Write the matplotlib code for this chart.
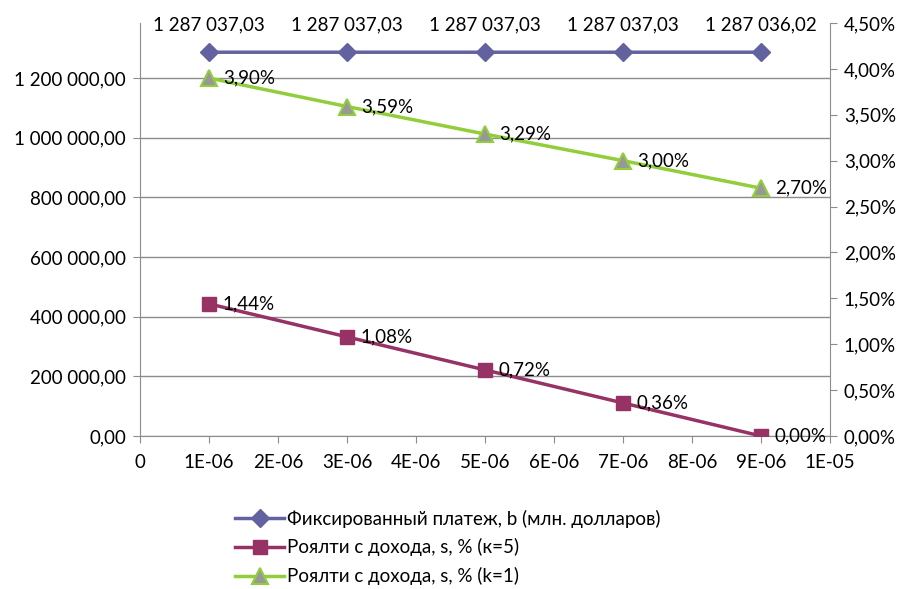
import matplotlib
matplotlib.use("Agg")
import matplotlib.pyplot as plt
from matplotlib.ticker import FuncFormatter, MultipleLocator

plt.rcParams['font.family'] = ['Lato', 'DejaVu Sans']

x = [1e-06, 3e-06, 5e-06, 7e-06, 9e-06]
fixed_payment = [1287037.03, 1287037.03, 1287037.03, 1287037.03, 1287036.02]
fixed_labels = ["1 287 037,03", "1 287 037,03", "1 287 037,03", "1 287 037,03", "1 287 036,02"]
royalty_k5 = [1.44, 1.08, 0.72, 0.36, 0.00]
royalty_k1 = [3.90, 3.59, 3.29, 3.00, 2.70]
x_tick_labels = ["0", "1E-06", "2E-06", "3E-06", "4E-06", "5E-06", "6E-06", "7E-06", "8E-06", "9E-06", "1E-05"]
series_names = ["Фиксированный платеж, b (млн. долларов)",
                "Роялти с дохода, s, % (к=5)",
                "Роялти с дохода, s, % (k=1)"]

c_blue = "#6262A0"
c_pink = "#963264"
c_green = "#92CD3C"
c_grey = "#8C8C8C"
fs = 13.5

fig = plt.figure(figsize=(9.04, 5.89), dpi=100)
ax = fig.add_axes([140/904, 1-436/589, 690/904, 413/589])
ax2 = ax.twinx()

ax.set_xlim(0, 1e-05)
ax.set_ylim(0, 1385000)
ax2.set_ylim(0, 4.5)

ax.set_yticks([0, 200000, 400000, 600000, 800000, 1000000, 1200000])
ax.yaxis.set_major_formatter(FuncFormatter(lambda v, p: f"{v:,.2f}".replace(",", " ").replace(".", ",")))
ax.set_xticks([i*1e-06 for i in range(11)])
ax.set_xticklabels(x_tick_labels)
ax2.yaxis.set_major_locator(MultipleLocator(0.5))
ax2.yaxis.set_major_formatter(FuncFormatter(lambda v, p: f"{v:.2f}%".replace(".", ",")))

ax.grid(axis='y', color=c_grey, linewidth=1)
ax.set_axisbelow(True)
for a in (ax, ax2):
    a.spines['top'].set_visible(False)
    for s in ('left', 'right', 'bottom'):
        a.spines[s].set_color(c_grey)
    a.tick_params(colors=c_grey, labelcolor='black', labelsize=fs, length=5, direction='out')
ax.spines['right'].set_visible(False)
ax2.spines['left'].set_visible(False)
ax2.spines['bottom'].set_visible(False)
ax.tick_params(axis='x', pad=8)
ax.tick_params(axis='y', pad=5)
ax2.tick_params(axis='y', pad=5)

l1, = ax.plot(x, fixed_payment, color=c_blue, linewidth=2.5, marker='D', markersize=9,
              markerfacecolor=c_blue, markeredgecolor=c_blue, zorder=5)
l2, = ax2.plot(x, royalty_k5, color=c_pink, linewidth=2.5, marker='s', markersize=10,
               markerfacecolor=c_pink, markeredgecolor=c_pink, zorder=5)
l3, = ax2.plot(x, royalty_k1, color=c_green, linewidth=2.5, marker='^', markersize=11,
               markerfacecolor="#989898", markeredgecolor=c_green, markeredgewidth=1.5, zorder=5)

for xi, yi, lab in zip(x, fixed_payment, fixed_labels):
    ax.annotate(lab, (xi, yi), xytext=(0, 20), textcoords='offset points',
                ha='center', va='center', fontsize=fs)
for xi, yi in zip(x, royalty_k5):
    ax2.annotate(f"{yi:.2f}%".replace(".", ","), (xi, yi), xytext=(10, 0), textcoords='offset points',
                 ha='left', va='center', fontsize=fs, zorder=6)
for xi, yi in zip(x, royalty_k1):
    ax2.annotate(f"{yi:.2f}%".replace(".", ","), (xi, yi), xytext=(10, 0), textcoords='offset points',
                 ha='left', va='center', fontsize=fs, zorder=6)

fig.legend([l1, l2, l3], series_names, loc='upper left', bbox_to_anchor=(228/904, 1-502/589),
           frameon=False, fontsize=fs, handlelength=2.6, labelspacing=0.58, handletextpad=0.15,
           borderaxespad=0)

fig.savefig("out.png", dpi=100)
